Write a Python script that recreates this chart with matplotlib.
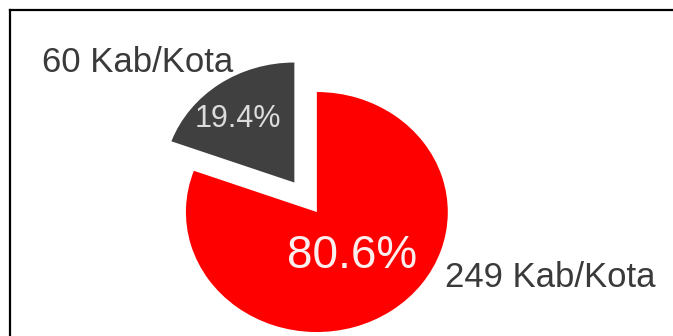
import matplotlib.pyplot as plt
from matplotlib.lines import Line2D

# jumlah kabupaten/kota per kategori
counts = [60, 249]
colors = ['#404040', '#ff0000']
pct_colors = ['#dcdcdc', '#fbeeee']
label_fmt = '{} Kab/Kota'

plt.rcParams['font.family'] = ['Liberation Sans', 'DejaVu Sans']

fig = plt.figure(figsize=(6.73, 3.36), dpi=100)
ax = fig.add_axes([0, 0, 1, 1])

wedges, labels, pcts = ax.pie(
    counts,
    labels=[label_fmt.format(c) for c in counts],
    colors=colors,
    explode=[0.3, 0],
    startangle=90,
    autopct='%.1f%%',
    wedgeprops=dict(linewidth=0),
)

# posisi label dan persentase
label_pos = [(-1.37, 1.25), (1.786, -0.542)]
pct_pos = [(-0.603, 0.779), (0.267, -0.367)]
pct_size = [22, 33]
for i in range(len(counts)):
    labels[i].set_position(label_pos[i])
    labels[i].set(ha='center', va='center', fontsize=25, color='#3a3a3a')
    pcts[i].set_position(pct_pos[i])
    pcts[i].set(ha='center', va='center', fontsize=pct_size[i], color=pct_colors[i])

ax.set_aspect('auto')
ax.set_xlim(-2.42, 2.72)
ax.set_ylim(-1.033, 1.767)
ax.axis('off')

# garis bingkai atas dan kiri
fig.add_artist(Line2D([9.5 / 673, 1], [1 - 9.5 / 336, 1 - 9.5 / 336],
                      transform=fig.transFigure, color='black', linewidth=1.6))
fig.add_artist(Line2D([9.5 / 673, 9.5 / 673], [0, 1 - 9.5 / 336],
                      transform=fig.transFigure, color='black', linewidth=1.6))

fig.savefig('out.png', dpi=100)
